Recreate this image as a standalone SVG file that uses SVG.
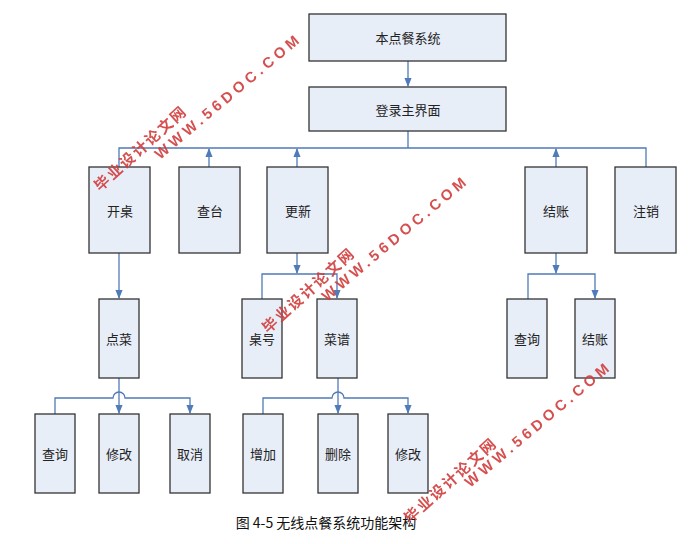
<svg xmlns="http://www.w3.org/2000/svg" width="689" height="544" viewBox="0 0 689 544">
<defs>
<marker id="a" viewBox="0 0 10 10" refX="9" refY="5" markerWidth="7" markerHeight="7" orient="auto"><path d="M0,1 L10,5 L0,9 z" fill="#4f7bb8"/></marker>
</defs>
<style>
.n rect{fill:#e8eef8;stroke:#333;stroke-width:1.3}
.n text{font-family:"Noto Sans CJK SC",sans-serif;font-size:13px;fill:#222;text-anchor:middle;dominant-baseline:central}
.c path{fill:none;stroke:#4f7bb8;stroke-width:1.3}
.w{font-family:"Liberation Sans",sans-serif;font-weight:bold;fill:#d23c3c;font-size:15px;letter-spacing:4px}
.wc{font-family:"Noto Sans CJK SC",sans-serif;font-weight:bold;fill:#d23c3c;font-size:15px;letter-spacing:2px}
</style>
<rect width="689" height="544" fill="#fff"/>
<g class="c">
<path d="M408,61 V86" marker-end="url(#a)"/>
<path d="M408,131 V148 M119,167 V148 H646 V167"/>
<path d="M209,167 V149" marker-end="url(#a)"/>
<path d="M297,167 V149" marker-end="url(#a)"/>
<path d="M556,167 V149" marker-end="url(#a)"/>
<path d="M119,253 V298" marker-end="url(#a)"/>
<path d="M297,253 V273" marker-end="url(#a)"/>
<path d="M262,299 V274 H337 V298" marker-end="url(#a)"/>
<path d="M556,253 V273" marker-end="url(#a)"/>
<path d="M528,299 V274 H595 V298" marker-end="url(#a)"/>
<path d="M119,378 V413" marker-end="url(#a)"/>
<path d="M55,414 V398 H113 A6,6 0 0 1 125,398 H190 V413" marker-end="url(#a)"/>
<path d="M338,378 V413" marker-end="url(#a)"/>
<path d="M263,414 V398 H332 A6,6 0 0 1 344,398 H408 V413" marker-end="url(#a)"/>
</g>
<g id="root" class="n"><rect x="309" y="14" width="197" height="47"/><text x="408" y="37">本点餐系统</text></g>
<g id="login" class="n"><rect x="309" y="87" width="197" height="44"/><text x="408" y="109">登录主界面</text></g>
<g id="kaizhuo" class="n"><rect x="89" y="167" width="61" height="86"/><text x="120" y="210">开桌</text></g>
<g id="chatai" class="n"><rect x="179" y="167" width="61" height="86"/><text x="210" y="210">查台</text></g>
<g id="gengxin" class="n"><rect x="267" y="167" width="61" height="86"/><text x="298" y="210">更新</text></g>
<g id="jiezhang" class="n"><rect x="525" y="167" width="62" height="86"/><text x="556" y="210">结账</text></g>
<g id="zhuxiao" class="n"><rect x="615" y="167" width="61" height="86"/><text x="646" y="210">注销</text></g>
<g id="diancai" class="n"><rect x="99" y="299" width="40" height="79"/><text x="119" y="338">点菜</text></g>
<g id="zhuohao" class="n"><rect x="242" y="299" width="40" height="79"/><text x="262" y="338">桌号</text></g>
<g id="caipu" class="n"><rect x="317" y="299" width="40" height="79"/><text x="337" y="338">菜谱</text></g>
<g id="chaxun2" class="n"><rect x="507" y="299" width="40" height="79"/><text x="527" y="338">查询</text></g>
<g id="jiezhang2" class="n"><rect x="575" y="299" width="40" height="79"/><text x="595" y="338">结账</text></g>
<g id="chaxun" class="n"><rect x="35" y="414" width="40" height="79"/><text x="55" y="453">查询</text></g>
<g id="xiugai" class="n"><rect x="99" y="414" width="40" height="79"/><text x="119" y="453">修改</text></g>
<g id="quxiao" class="n"><rect x="170" y="414" width="40" height="79"/><text x="190" y="453">取消</text></g>
<g id="zengjia" class="n"><rect x="243" y="414" width="40" height="79"/><text x="263" y="453">增加</text></g>
<g id="shanchu" class="n"><rect x="318" y="414" width="40" height="79"/><text x="338" y="453">删除</text></g>
<g id="xiugai2" class="n"><rect x="388" y="414" width="40" height="79"/><text x="408" y="453">修改</text></g>
<text x="326" y="528" text-anchor="middle" font-family="'Noto Sans CJK SC',sans-serif" font-size="14" fill="#111">图 4-5 无线点餐系统功能架构</text>
<g opacity="0.9">
<text class="wc" transform="translate(100,192) rotate(-42)">毕业设计论文网</text>
<text class="w" transform="translate(160,160) rotate(-40)">WWW.56DOC.COM</text>
<text class="wc" transform="translate(268,334) rotate(-42)">毕业设计论文网</text>
<text class="w" transform="translate(327,302) rotate(-40)">WWW.56DOC.COM</text>
<text class="wc" transform="translate(410,524) rotate(-42)">毕业设计论文网</text>
<text class="w" transform="translate(470,488) rotate(-40)">WWW.56DOC.COM</text>
</g>
</svg>
